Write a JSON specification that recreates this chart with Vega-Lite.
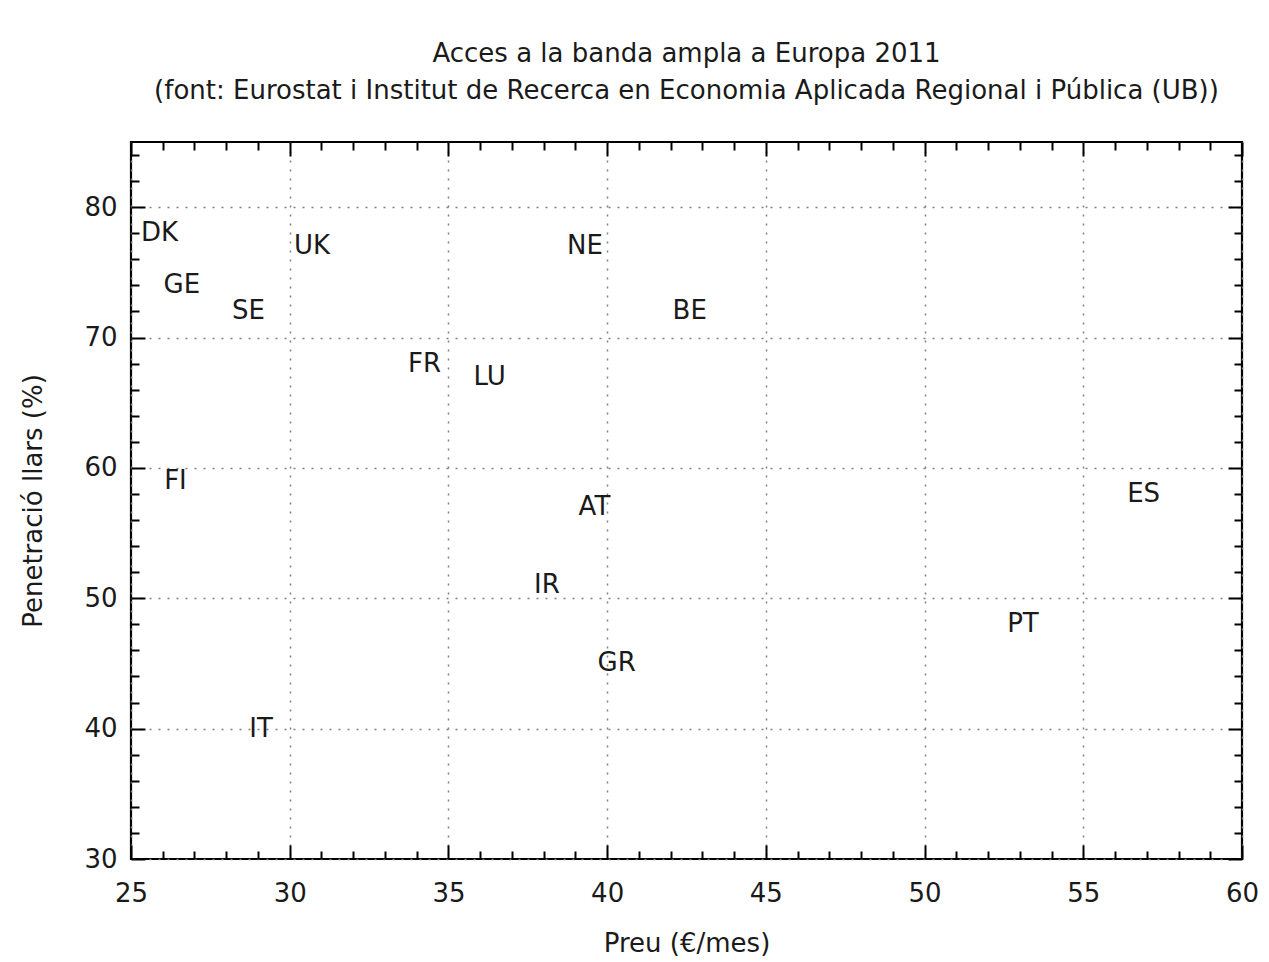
{
  "$schema": "https://vega.github.io/schema/vega-lite/v6.json",
  "width": 1111,
  "height": 717,
  "autosize": {"type": "none"},
  "padding": {"left": 131, "top": 142, "right": 27, "bottom": 103},
  "background": "white",
  "config": {
    "font": "DejaVu Sans",
    "view": {"stroke": "#000000", "strokeWidth": 2.2, "fill": "white"},
    "axis": {"labelFont": "DejaVu Sans", "titleFont": "DejaVu Sans", "labelColor": "#1a1a1a", "titleColor": "#1a1a1a", "titleFontWeight": "normal", "domain": false}
  },
  "title": {
    "text": ["Acces a la banda ampla a Europa 2011", "(font: Eurostat i Institut de Recerca en Economia Aplicada Regional i Pública (UB))"],
    "font": "DejaVu Sans",
    "fontSize": 26,
    "fontWeight": "normal",
    "color": "#1a1a1a",
    "anchor": "middle",
    "frame": "group",
    "lineHeight": 37,
    "offset": 37
  },
  "data": {
    "values": [
      {"pais": "DK", "preu": 25.9, "penetracio": 78},
      {"pais": "UK", "preu": 30.7, "penetracio": 77},
      {"pais": "NE", "preu": 39.3, "penetracio": 77},
      {"pais": "GE", "preu": 26.6, "penetracio": 74},
      {"pais": "SE", "preu": 28.7, "penetracio": 72},
      {"pais": "BE", "preu": 42.6, "penetracio": 72},
      {"pais": "FR", "preu": 34.25, "penetracio": 68},
      {"pais": "LU", "preu": 36.3, "penetracio": 67},
      {"pais": "FI", "preu": 26.4, "penetracio": 59},
      {"pais": "ES", "preu": 56.9, "penetracio": 58},
      {"pais": "AT", "preu": 39.6, "penetracio": 57},
      {"pais": "IR", "preu": 38.1, "penetracio": 51},
      {"pais": "PT", "preu": 53.1, "penetracio": 48},
      {"pais": "GR", "preu": 40.3, "penetracio": 45},
      {"pais": "IT", "preu": 29.1, "penetracio": 40}
    ]
  },
  "resolve": {"axis": {"x": "independent", "y": "independent"}},
  "layer": [
    {
      "mark": {"type": "text", "opacity": 0},
      "encoding": {
        "x": {"field": "preu", "type": "quantitative", "scale": {"domain": [25, 60], "nice": false, "zero": false},
          "axis": {"orient": "bottom", "values": [25, 30, 35, 40, 45, 50, 55, 60], "labels": false, "grid": false, "ticks": true, "tickSize": -14, "tickWidth": 2, "tickColor": "#000", "title": null}},
        "y": {"field": "penetracio", "type": "quantitative", "scale": {"domain": [30, 85], "nice": false, "zero": false},
          "axis": {"orient": "left", "values": [30, 40, 50, 60, 70, 80], "labels": false, "grid": false, "ticks": true, "tickSize": -14, "tickWidth": 2, "tickColor": "#000", "title": null}},
        "text": {"field": "pais"}
      }
    },
    {
      "mark": {"type": "text", "opacity": 0},
      "encoding": {
        "x": {"field": "preu", "type": "quantitative",
          "axis": {"orient": "bottom", "values": [26,27,28,29,31,32,33,34,36,37,38,39,41,42,43,44,46,47,48,49,51,52,53,54,56,57,58,59], "labels": false, "grid": false, "ticks": true, "tickSize": -8, "tickWidth": 2, "tickColor": "#000", "title": null}},
        "y": {"field": "penetracio", "type": "quantitative",
          "axis": {"orient": "left", "values": [32,34,36,38,42,44,46,48,52,54,56,58,62,64,66,68,72,74,76,78,82,84], "labels": false, "grid": false, "ticks": true, "tickSize": -8, "tickWidth": 2, "tickColor": "#000", "title": null}},
        "text": {"field": "pais"}
      }
    },
    {
      "mark": {"type": "text", "opacity": 0},
      "encoding": {
        "x": {"field": "preu", "type": "quantitative",
          "axis": {"orient": "top", "values": [25, 30, 35, 40, 45, 50, 55, 60], "labels": false, "grid": false, "ticks": true, "tickSize": -14, "tickWidth": 2, "tickColor": "#000", "title": null}},
        "y": {"field": "penetracio", "type": "quantitative",
          "axis": {"orient": "right", "values": [30, 40, 50, 60, 70, 80], "labels": false, "grid": false, "ticks": true, "tickSize": -14, "tickWidth": 2, "tickColor": "#000", "title": null}},
        "text": {"field": "pais"}
      }
    },
    {
      "mark": {"type": "text", "opacity": 0},
      "encoding": {
        "x": {"field": "preu", "type": "quantitative",
          "axis": {"orient": "top", "values": [26,27,28,29,31,32,33,34,36,37,38,39,41,42,43,44,46,47,48,49,51,52,53,54,56,57,58,59], "labels": false, "grid": false, "ticks": true, "tickSize": -8, "tickWidth": 2, "tickColor": "#000", "title": null}},
        "y": {"field": "penetracio", "type": "quantitative",
          "axis": {"orient": "right", "values": [32,34,36,38,42,44,46,48,52,54,56,58,62,64,66,68,72,74,76,78,82,84], "labels": false, "grid": false, "ticks": true, "tickSize": -8, "tickWidth": 2, "tickColor": "#000", "title": null}},
        "text": {"field": "pais"}
      }
    },
    {
      "mark": {"type": "text", "font": "DejaVu Sans", "fontSize": 26, "color": "#1a1a1a", "align": "center", "baseline": "middle"},
      "encoding": {
        "x": {"field": "preu", "type": "quantitative",
          "axis": {"orient": "bottom", "values": [25, 30, 35, 40, 45, 50, 55, 60], "ticks": false, "grid": true, "gridDash": [2, 7], "gridColor": "#808080", "gridWidth": 1.5, "labelFontSize": 26, "labelPadding": 21, "labelFlush": false, "title": "Preu (€/mes)", "titleFontSize": 26, "titlePadding": 24}},
        "y": {"field": "penetracio", "type": "quantitative",
          "axis": {"orient": "left", "values": [30, 40, 50, 60, 70, 80], "ticks": false, "grid": true, "gridDash": [2, 7], "gridColor": "#808080", "gridWidth": 1.5, "labelFontSize": 26, "labelPadding": 14, "labelFlush": false, "title": "Penetració llars (%)", "titleFontSize": 26, "titlePadding": 37}},
        "text": {"field": "pais"}
      }
    }
  ]
}
